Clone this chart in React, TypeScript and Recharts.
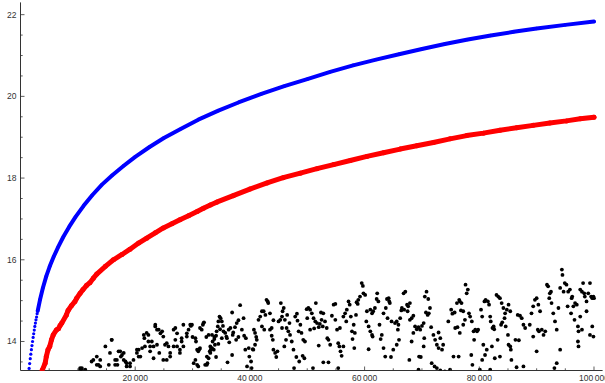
import { ScatterChart, Scatter, XAxis, YAxis } from 'recharts'

// steep start of the blue curve, where its dots are still apart
const blueStart: [number, number][] = [
  [1400, 13.22], [1500, 13.34], [1600, 13.46], [1700, 13.58], [1800, 13.69], [1900, 13.8],
  [2000, 13.9], [2100, 14.0], [2200, 14.1], [2300, 14.19], [2400, 14.28], [2500, 14.37],
  [2600, 14.45], [2700, 14.53], [2800, 14.6], [2900, 14.68],
]

// rest of the smooth upper curve (blue)
const blueCurve: [number, number][] = [
  [3000, 14.75], [3400, 15.02], [3900, 15.31], [4500, 15.6], [5100, 15.84], [5800, 16.08],
  [6600, 16.32], [7500, 16.57], [8500, 16.81], [9600, 17.05], [11000, 17.32], [12500, 17.58],
  [14200, 17.84], [16000, 18.07], [18000, 18.3], [20000, 18.52], [22500, 18.76], [25000, 18.98],
  [28000, 19.21], [31000, 19.43], [34500, 19.65], [38000, 19.85], [42000, 20.06], [46000, 20.25],
  [50000, 20.42], [54000, 20.6], [58000, 20.76], [62000, 20.9], [66000, 21.03], [70000, 21.16],
  [74000, 21.28], [78000, 21.39], [82000, 21.49], [86000, 21.58], [90000, 21.66], [95000, 21.75],
  [100000, 21.83],
]

// slightly noisy middle curve (red)
const redCurve: [number, number][] = [
  [3700, 13.25], [3800, 13.3], [4300, 13.47], [4500, 13.63], [4800, 13.8], [5100, 13.88],
  [5400, 14.04], [5700, 14.16], [6300, 14.29], [6600, 14.31], [6900, 14.39], [7200, 14.45],
  [8000, 14.65], [8300, 14.76], [8900, 14.88], [9500, 14.98], [9800, 15.06], [10400, 15.18],
  [10900, 15.27], [11500, 15.37], [12100, 15.44], [12700, 15.55], [13300, 15.65], [14800, 15.84],
  [16200, 16.0], [17700, 16.13], [19100, 16.26], [20600, 16.41], [22000, 16.53], [23500, 16.66],
  [24900, 16.78], [26400, 16.88], [27800, 16.98], [29300, 17.08], [30800, 17.18], [31900, 17.26],
  [33100, 17.34], [34200, 17.41], [37100, 17.57], [40000, 17.73], [43000, 17.88], [45800, 18.01],
  [48800, 18.12], [51700, 18.23], [54600, 18.33], [57500, 18.43], [60400, 18.53], [63300, 18.62],
  [66200, 18.71], [69100, 18.79], [72000, 18.87], [74900, 18.96], [77800, 19.04], [80700, 19.1],
  [83600, 19.17], [86500, 19.23], [89400, 19.29], [92300, 19.35], [95200, 19.4], [97600, 19.45],
  [100000, 19.49],
]

// scattered lower points (black), read left to right
const blackLeft: [number, number][] = [
  [10400, 13.35], [10700, 13.31], [11300, 13.31], [12700, 13.55], [13300, 13.43], [13900, 13.39],
  [14800, 13.88], [15400, 13.43], [15900, 14.04], [16500, 13.43], [16800, 13.55], [17100, 13.76],
  [17500, 13.63], [18000, 13.72], [18300, 13.51], [18500, 13.39], [19100, 13.47], [19700, 13.55],
  [20300, 13.8], [20600, 13.63], [21200, 13.84], [21600, 14.08], [22000, 14.21], [22300, 14.0],
  [22600, 13.76], [23200, 13.88], [23500, 14.41], [23800, 14.29], [24200, 13.72], [24700, 14.25],
  [24900, 13.55], [25500, 13.96], [25800, 13.88], [26100, 13.63], [26700, 14.29], [27000, 14.04],
  [27300, 13.88], [27800, 13.8], [28100, 14.08], [28400, 14.41], [29000, 14.12], [29300, 14.29],
  [29600, 14.41],
  [10400, 13.31], [10700, 13.35], [11300, 13.23], [12400, 13.51], [13300, 13.63], [13600, 13.43],
  [13900, 13.55], [15900, 14.04], [15600, 13.72], [16500, 13.55], [16900, 13.43], [17400, 13.76],
  [17700, 13.67], [18000, 13.55], [18500, 13.47], [19100, 13.39], [20300, 13.72], [20600, 13.8],
  [20900, 13.63], [21500, 14.16], [21700, 13.88], [22300, 14.16], [22600, 13.88], [22900, 14.0],
  [23200, 13.59], [23500, 14.37], [24100, 14.29], [24400, 14.2], [23800, 13.92], [24900, 14.12],
  [25200, 13.92], [25500, 13.55], [26100, 13.72], [26700, 13.88], [27000, 14.33], [27300, 14.2],
  [27800, 13.72], [28100, 14.0], [28400, 13.88], [29000, 14.2],
]

const blackMid: [number, number][] = [
  [29900, 14.41], [30500, 14.08], [30800, 13.8], [31000, 13.76], [31300, 13.84], [31600, 14.29],
  [31900, 14.45], [31300, 14.33], [30500, 13.55], [30200, 13.47], [31000, 13.39], [32500, 13.43],
  [32800, 13.59], [33100, 13.72], [33400, 13.84], [33500, 14.0], [33800, 14.06], [34100, 14.14],
  [32400, 14.11], [32800, 14.16], [33100, 13.88], [29700, 14.38], [30000, 14.11], [30600, 14.0],
  [31200, 13.81], [31800, 14.41], [32000, 14.47], [30800, 13.43], [32200, 13.43], [32600, 13.47],
  [32500, 13.63], [33000, 13.76], [33200, 13.81],
  [33400, 14.16], [33800, 14.11], [34200, 14.25], [34500, 14.49], [34700, 14.61], [34900, 14.57],
  [35100, 14.49], [35300, 14.38], [34400, 14.37], [34800, 14.3], [35400, 14.25], [33900, 13.92],
  [34500, 13.94], [35100, 14.08], [33700, 13.8], [34100, 13.62],
  [35700, 14.21], [36000, 14.08], [36300, 14.29], [36600, 14.33], [36900, 14.71], [37100, 14.22],
  [37400, 14.35], [37700, 14.45], [38000, 14.52], [38300, 14.89], [37000, 14.16], [36400, 13.98],
  [37600, 14.04], [38000, 14.11], [36900, 13.67], [36100, 13.49], [35900, 14.12],
  [38600, 14.29], [38900, 14.57], [39000, 14.14], [39300, 14.08], [39500, 13.39], [39800, 13.84],
  [39900, 13.63], [40200, 13.51], [40300, 13.35], [40600, 13.8], [40900, 14.21], [41100, 14.11],
  [40700, 14.29], [41200, 14.04], [40900, 13.92], [40500, 13.81], [39200, 13.8],
  [41500, 14.53], [41800, 14.61], [42100, 14.74], [42400, 14.74], [42700, 14.65], [42900, 15.02],
  [43200, 14.94], [43100, 14.98], [43500, 14.69], [43800, 14.33], [42100, 14.37], [42500, 14.29],
  [44100, 14.52], [44000, 14.04], [44100, 13.8], [44400, 13.72], [44600, 13.62], [44800, 13.76],
  [43500, 14.29], [43800, 14.14],
  [45000, 14.49], [45300, 14.53], [45600, 14.61], [45700, 14.74], [45400, 14.94], [45900, 14.82],
  [46100, 14.53], [46400, 14.33], [46700, 14.25], [47000, 14.16], [46300, 14.04], [46000, 13.88],
  [45600, 14.33], [46900, 14.45], [46500, 14.65], [47300, 14.0], [47600, 13.8], [48100, 13.62],
  [47900, 14.61], [48200, 14.68], [48300, 14.51], [48800, 14.41], [49000, 14.21], [49300, 14.04],
  [49600, 14.0], [49900, 14.79], [50000, 14.57], [49200, 13.65], [49500, 13.59], [48600, 13.51],
  [47700, 13.35], [48500, 14.25],
  [50200, 14.82], [50500, 14.78], [50800, 14.69], [51100, 14.57], [51400, 14.49], [51500, 14.94],
  [51700, 14.45], [52000, 14.35], [52200, 14.43], [52500, 14.53], [52700, 14.37], [52000, 13.9],
  [51000, 13.35], [50500, 14.29], [51200, 14.32], [52400, 14.71], [52800, 14.69],
  [53100, 14.49], [53400, 14.33], [53700, 14.04], [54000, 13.92], [53500, 14.08], [54300, 14.63],
  [54600, 14.9], [54900, 14.92], [55200, 14.29], [55400, 13.96], [55600, 13.88], [55800, 13.76],
  [56000, 13.65], [56300, 13.88], [55400, 13.35], [52800, 13.49], [53700, 13.49], [54900, 14.53],
  [55700, 14.33],
  [56300, 14.61], [56600, 14.69], [56900, 14.78], [57200, 14.98], [57400, 14.9], [57600, 14.61],
  [57800, 14.25], [57900, 14.06], [58200, 13.84], [58300, 14.21], [58100, 14.41], [58600, 14.96],
  [58500, 14.65], [58800, 14.92], [56800, 14.49],
  [58900, 15.02], [59200, 15.1], [59500, 15.43], [59700, 15.36], [59800, 15.18], [60100, 15.14],
  [60300, 14.49], [60700, 14.37], [61000, 14.25], [61300, 14.16], [60700, 13.81], [61400, 14.12],
  [60400, 14.74], [61000, 14.78], [61500, 14.74], [61800, 14.82], [61300, 14.69],
  [62100, 15.04], [62200, 15.18], [62400, 14.98], [62600, 14.41], [62800, 14.06], [63000, 14.16],
  [63300, 13.84], [63600, 13.63], [63900, 15.04], [64200, 15.06], [64300, 14.98], [63300, 14.69],
  [63700, 14.82], [64000, 14.57], [64400, 14.94], [64600, 13.62], [65000, 13.8], [64700, 14.49],
  [65300, 14.45],
]

const blackRight: [number, number][] = [
  [65600, 14.49], [65900, 14.41], [66200, 14.57], [65800, 14.29], [66000, 14.04], [65600, 13.92],
  [66500, 14.82], [66800, 15.18], [67100, 15.22], [67400, 14.9], [67600, 14.86], [67900, 14.94],
  [67500, 14.74], [66900, 14.78], [66400, 14.76], [67900, 14.53], [68200, 14.57], [68500, 14.63],
  [67800, 13.55], [68500, 14.21], [68200, 14.0],
  [68800, 14.37], [69100, 14.3], [69400, 14.35], [69700, 14.29], [70000, 14.38], [70300, 14.45],
  [70500, 15.1], [70800, 15.22], [71100, 15.04], [70700, 14.71], [71000, 14.65], [71400, 14.82],
  [69800, 13.62], [69500, 13.63], [69400, 13.31], [70300, 13.88], [70400, 14.08],
  [71600, 14.35], [72000, 14.16], [72300, 14.04], [72600, 13.92], [72900, 14.22], [73200, 14.08],
  [72900, 13.84], [71700, 13.47], [72200, 13.39], [72600, 13.35], [73200, 13.29], [73700, 13.92],
  [73500, 13.8], [71200, 14.69],
  [74000, 13.27], [74500, 13.24], [74900, 13.31], [74600, 14.49], [75100, 14.78], [75300, 14.68],
  [75700, 14.71], [76100, 14.94], [75800, 14.33], [76200, 14.35], [76400, 13.63], [75500, 13.63],
  [76500, 15.02], [76600, 14.98], [76900, 14.94], [76800, 14.76], [76600, 14.21],
  [77200, 14.74], [77500, 14.53], [77600, 15.39], [77800, 15.18], [78000, 15.27], [78200, 14.69],
  [78400, 14.61], [78700, 14.49], [79000, 14.25], [79300, 14.29], [79600, 14.25], [78600, 13.67],
  [78800, 13.43], [79100, 14.04], [79800, 14.29], [77200, 14.41],
  [80300, 14.78], [80500, 14.61], [80900, 14.98], [81100, 15.02], [81500, 14.98], [81700, 14.9],
  [81900, 14.61], [82000, 14.49], [82300, 14.33], [82500, 14.37], [82600, 14.3], [80700, 13.92],
  [81000, 13.67], [80500, 13.55], [81300, 13.8], [82200, 13.88], [82700, 13.59], [80100, 13.31],
  [81900, 13.31],
  [83000, 15.14], [83300, 15.1], [83600, 15.06], [83900, 14.94], [84200, 14.82], [84500, 14.69],
  [84800, 14.78], [85100, 14.9], [85400, 14.74], [83800, 14.41], [84000, 14.47], [84400, 14.57],
  [84600, 14.37], [85000, 14.16], [85100, 13.92], [85400, 13.88], [85500, 13.8], [85600, 13.55],
  [83600, 13.63], [83200, 14.04],
  [86300, 14.04], [86900, 14.03], [86700, 14.65], [87100, 14.63], [87400, 14.57], [87700, 14.41],
  [88000, 14.33], [87700, 13.39], [86500, 13.37],
  [88800, 14.41], [89100, 14.69], [89400, 14.86], [89700, 15.02], [90000, 15.06], [90300, 14.9],
  [90600, 14.74], [90200, 14.29], [90400, 14.25], [90900, 14.29], [91200, 14.16], [91500, 14.25],
  [90000, 13.76], [89400, 14.12],
  [91800, 15.39], [92000, 15.35], [92300, 15.18], [92600, 14.94], [92900, 14.69], [93200, 14.49],
  [93500, 14.29], [93800, 14.82], [94100, 15.31], [94400, 15.76], [94500, 15.63], [94700, 15.22],
  [94100, 13.8], [93500, 13.47], [93100, 13.35], [92200, 15.06], [92500, 15.22],
  [94900, 15.43], [95200, 15.39], [95500, 15.22], [95800, 15.27], [96100, 15.06], [96400, 14.86],
  [96700, 14.94], [97000, 14.9], [97200, 14.37], [97300, 14.25], [97200, 14.0], [97300, 13.88],
  [96600, 14.53], [96000, 14.69], [95400, 14.86], [96200, 15.1],
  [97600, 15.27], [97900, 15.22], [98100, 15.43], [98400, 15.1], [98700, 14.74], [99000, 15.18],
  [99300, 15.43], [99500, 15.1], [99700, 15.06], [99900, 15.1], [100000, 15.06], [97900, 14.29],
  [97600, 14.61], [99700, 14.37], [99900, 14.12], [99300, 14.16], [98700, 14.98], [98300, 15.18],
]

const xTicks = [
  5000, 10000, 15000, 20000, 25000, 30000, 35000, 40000, 45000, 50000,
  55000, 60000, 65000, 70000, 75000, 80000, 85000, 90000, 95000, 100000,
]
const xLabels = [20000, 40000, 60000, 80000, 100000]
const yTicks = [13.5, 14, 14.5, 15, 15.5, 16, 16.5, 17, 17.5, 18, 18.5, 19, 19.5, 20, 20.5, 21, 21.5, 22]
const yLabels = [14, 16, 18, 20, 22]

const axisColor = '#333'
const font = '"Liberation Sans", Arial, sans-serif'

const toPoints = (pairs: [number, number][]) => pairs.map(([x, y]) => ({ x, y }))
const blackPoints = toPoints([...blackLeft, ...blackMid, ...blackRight])

const fmtThousands = (v: number) => `${Math.floor(v / 1000)}\u2009${String(v % 1000).padStart(3, '0')}`

function XTick({ x, y, payload }: any) {
  const major = xLabels.includes(payload.value)
  return (
    <g>
      <line x1={x} x2={x} y1={y} y2={y - (major ? 4 : 2.2)} stroke={axisColor} strokeWidth={0.8} />
      {major && (
        <text x={x} y={y + 10} textAnchor="middle" fontSize={8.5} fontFamily={font} fill={axisColor}>
          {fmtThousands(payload.value)}
        </text>
      )}
    </g>
  )
}

function YTick({ x, y, payload }: any) {
  const major = yLabels.includes(payload.value)
  return (
    <g>
      <line x1={x} x2={x + (major ? 4 : 2.2)} y1={y} y2={y} stroke={axisColor} strokeWidth={0.8} />
      {major && (
        <text x={x - 4} y={y + 3} textAnchor="end" fontSize={8.5} fontFamily={font} fill={axisColor}>
          {payload.value}
        </text>
      )}
    </g>
  )
}

const dot = (r: number, fill: string) => (props: any) =>
  props.cx == null ? <g /> : <circle cx={props.cx} cy={props.cy} r={r} fill={fill} />

export default function App() {
  return (
    <div style={{ position: 'absolute', left: 0, top: 0, background: '#fff' }}>
      <ScatterChart width={605} height={383} margin={{ top: 2.4, right: 2.4, bottom: 0, left: 0 }}>
        <XAxis
          type="number"
          dataKey="x"
          domain={[0, 101500]}
          allowDataOverflow
          ticks={xTicks}
          interval={0}
          tickSize={0}
          tickMargin={0}
          tick={<XTick />}
          height={12.5}
          stroke={axisColor}
        />
        <YAxis
          type="number"
          dataKey="y"
          domain={[13.29, 22.3]}
          allowDataOverflow
          ticks={yTicks}
          interval={0}
          tickSize={0}
          tickMargin={0}
          tick={<YTick />}
          width={20.5}
          stroke={axisColor}
        />
        <Scatter data={toPoints(blueStart)} fill="#0000ff" shape={dot(1.6, '#0000ff')} isAnimationActive={false} />
        <Scatter
          data={toPoints(blueCurve)}
          fill="#0000ff"
          line={{ stroke: '#0000ff', strokeWidth: 4, strokeLinecap: 'round', strokeLinejoin: 'round' }}
          lineType="joint"
          shape={dot(1.7, '#0000ff')}
          isAnimationActive={false}
        />
        <Scatter
          data={toPoints(redCurve)}
          fill="#ff0000"
          line={{ stroke: '#ff0000', strokeWidth: 5, strokeLinecap: 'round', strokeLinejoin: 'round' }}
          lineType="joint"
          shape={dot(2.5, '#ff0000')}
          isAnimationActive={false}
        />
        <Scatter data={blackPoints} fill="#000" shape={dot(1.9, '#000')} isAnimationActive={false} />
      </ScatterChart>
    </div>
  )
}
